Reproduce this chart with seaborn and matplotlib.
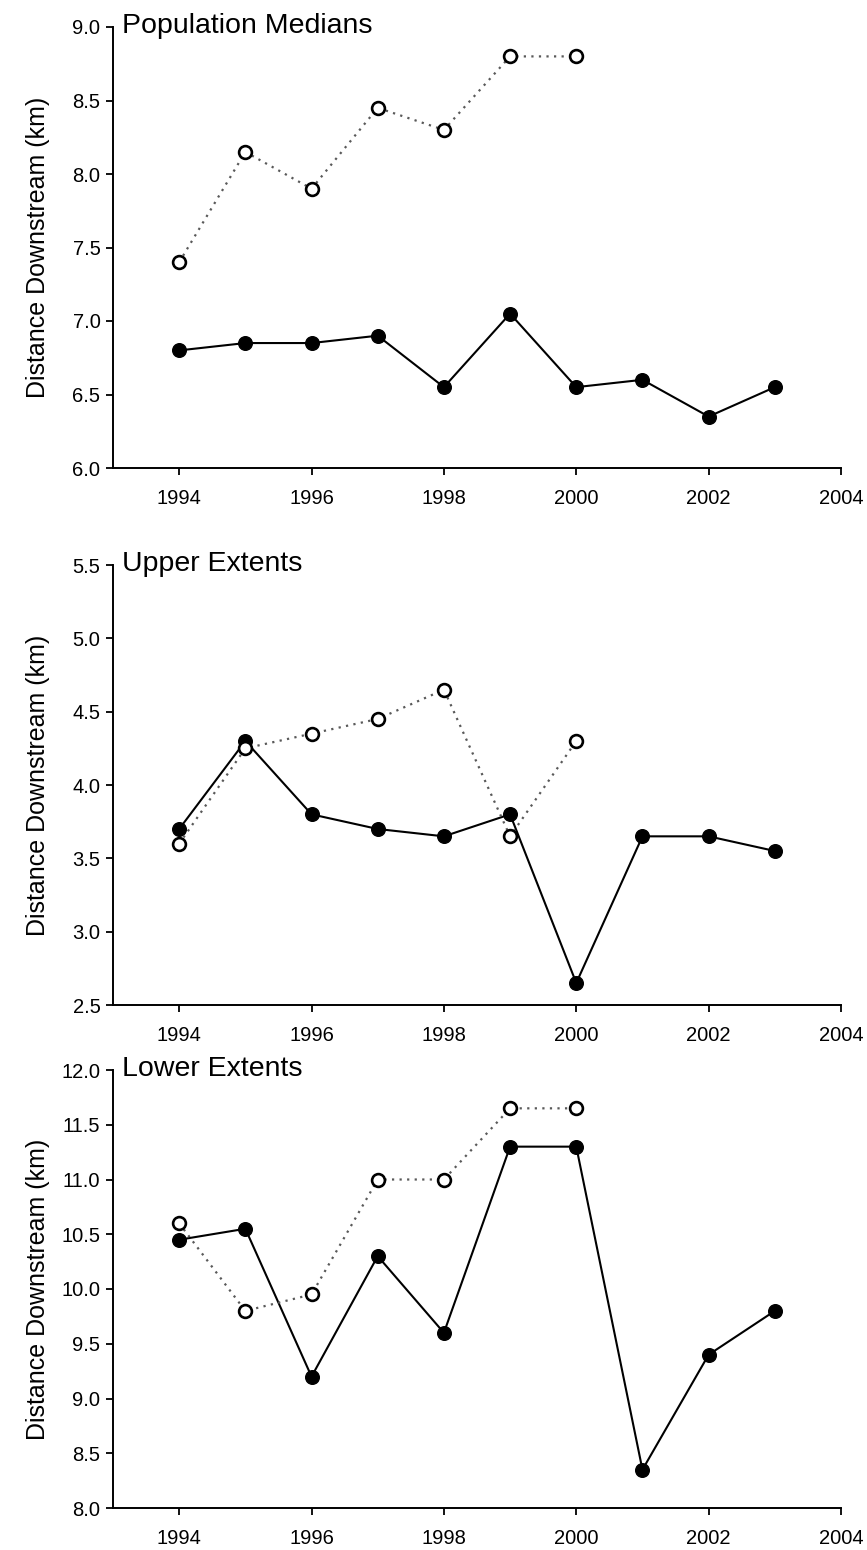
import matplotlib
matplotlib.use("Agg")
import matplotlib.pyplot as plt
import seaborn as sns
import pandas as pd

# Survey years
years_all = [1994, 1995, 1996, 1997, 1998, 1999, 2000, 2001, 2002, 2003]
years_open = [1994, 1995, 1996, 1997, 1998, 1999, 2000]

# Population medians (km downstream)
median_filled = [6.80, 6.85, 6.85, 6.90, 6.55, 7.05, 6.55, 6.60, 6.35, 6.55]
median_open = [7.40, 8.15, 7.90, 8.45, 8.30, 8.80, 8.80]

# Upper extents (km downstream)
upper_filled = [3.70, 4.30, 3.80, 3.70, 3.65, 3.80, 2.65, 3.65, 3.65, 3.55]
upper_open = [3.60, 4.25, 4.35, 4.45, 4.65, 3.65, 4.30]

# Lower extents (km downstream)
lower_filled = [10.45, 10.55, 9.20, 10.30, 9.60, 11.30, 11.30, 8.35, 9.40, 9.80]
lower_open = [10.60, 9.80, 9.95, 11.00, 11.00, 11.65, 11.65]

panel_titles = ["Population Medians", "Upper Extents", "Lower Extents"]
y_ranges = [(6.0, 9.0), (2.5, 5.5), (8.0, 12.0)]
x_ticks = [1994, 1996, 1998, 2000, 2002, 2004]
y_label = "Distance Downstream (km)"

sns.set_style("ticks")
plt.rcParams["font.family"] = ["Liberation Sans", "DejaVu Sans"]
for key in ("text.color", "axes.labelcolor", "xtick.color", "ytick.color"):
    plt.rcParams[key] = "black"

W, H = 867, 1550
fig = plt.figure(figsize=(W / 100, H / 100), dpi=100)

# axes boxes in pixels: (top, bottom)
boxes = [(27, 468), (565, 1005), (1070, 1508)]
left_px, right_px = 113, 841

series = [
    (median_filled, median_open),
    (upper_filled, upper_open),
    (lower_filled, lower_open),
]

for (top, bot), (filled, opened), title, (y0, y1) in zip(boxes, series, panel_titles, y_ranges):
    ax = fig.add_axes([left_px / W, 1 - bot / H, (right_px - left_px) / W, (bot - top) / H])

    df_f = pd.DataFrame({"year": years_all, "km": filled})
    df_o = pd.DataFrame({"year": years_open, "km": opened})

    sns.lineplot(data=df_f, x="year", y="km", ax=ax, color="black",
                 linewidth=1.5, marker="o", markersize=9.8,
                 markerfacecolor="black", markeredgecolor="black",
                 markeredgewidth=1.0, zorder=3)
    sns.lineplot(data=df_o, x="year", y="km", ax=ax, color="0.35",
                 linewidth=1.6, linestyle=(0, (1, 2.4)), marker="o",
                 markersize=9.2, markerfacecolor="white",
                 markeredgecolor="black", markeredgewidth=1.9, zorder=4)

    ax.set_xlim(1993, 2004)
    ax.set_ylim(y0, y1)
    ax.set_xticks(x_ticks)
    ax.set_xticklabels([str(t) for t in x_ticks])
    yt = [y0 + 0.5 * i for i in range(int(round((y1 - y0) / 0.5)) + 1)]
    ax.set_yticks(yt)
    ax.set_yticklabels([f"{v:.1f}" for v in yt])

    for side in ("top", "right"):
        ax.spines[side].set_visible(False)
    for side in ("left", "bottom"):
        ax.spines[side].set_linewidth(1.4)
        ax.spines[side].set_color("black")

    ax.tick_params(axis="both", direction="out", length=5, width=1.3,
                   colors="black", labelsize=14.5)
    ax.tick_params(axis="x", pad=10)
    ax.tick_params(axis="y", pad=4)

    ax.set_xlabel("")
    ax.set_ylabel(y_label, fontsize=18)
    ax.yaxis.set_label_coords(-0.086, 0.5)

    ax.annotate(title, xy=(0, 1), xycoords="axes fraction",
                xytext=(6.5, -4.5), textcoords="offset points",
                ha="left", va="baseline", fontsize=20.5)

fig.savefig("out.png", dpi=100, facecolor="white")
